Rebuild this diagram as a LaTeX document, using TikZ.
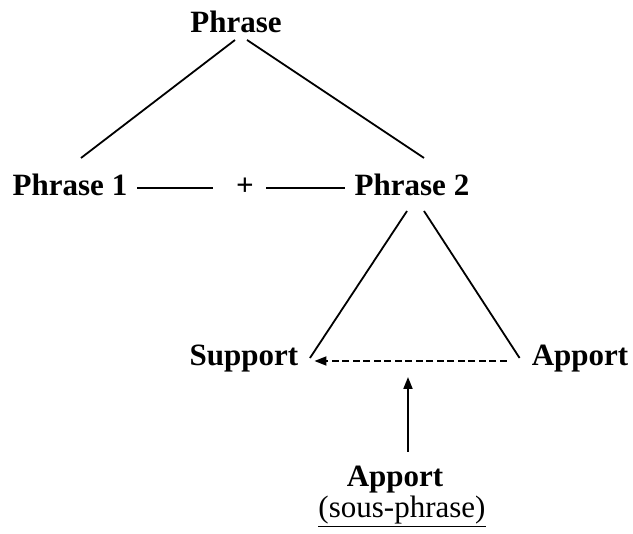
\documentclass[tikz,border=0pt]{standalone}
\usepackage{fontspec}
\setmainfont{Liberation Serif}
\usetikzlibrary{calc,arrows.meta}
\begin{document}
\begin{tikzpicture}[x=1pt,y=-1pt,
  lbl/.style={font=\fontsize{31}{37}\selectfont\bfseries, inner sep=0pt, anchor=base},
  sub/.style={font=\fontsize{31}{37}\selectfont, inner sep=0pt, anchor=base},
  ln/.style={line width=1.8pt},
  tip/.style={-{Triangle[length=12pt,width=9pt]}},
  dsh/.style={dash pattern=on 7pt off 3.5pt}]
\useasboundingbox (0,0) rectangle (633,534);
\node[lbl] (ph) at (236,33) {Phrase};
\node[lbl] (p1) at (70,196) {Phrase 1};
\node[lbl] (plus) at (245,196) {+};
\node[lbl] (p2) at (412,196) {Phrase 2};
\node[lbl] (sup) at (244,366) {Support};
\node[lbl] (app) at (580,366) {Apport};
\node[lbl] (app2) at (395,487) {Apport};
\node[sub] (sous) at (402,518) {\underline{(sous-phrase)}};
% tree lines
\draw[ln] ($(ph.base)+(-1,7)$) -- ($(p1.base)+(11,-38)$);
\draw[ln] ($(ph.base)+(11,7)$) -- ($(p2.base)+(12,-38)$);
\draw[ln] ($(p1.base east)+(10,-8)$) -- ($(plus.base west)+(-23,-8)$);
\draw[ln] ($(plus.base east)+(12,-8)$) -- ($(p2.base west)+(-10,-8)$);
\draw[ln] ($(p2.base)+(-5,15)$) -- ($(sup.base east)+(11.5,-8)$);
\draw[ln] ($(p2.base)+(12,15)$) -- ($(app.base west)+(-12,-8)$);
% arrows
\draw[ln,dsh,tip] ($(app.base west)+(-25,-5)$) -- ($(sup.base east)+(16,-5)$);
\coordinate (target) at ($(app2.base)+(13,-110)$);
\draw[ln,tip] ($(app2.base)+(13,-35)$) -- (target);
\end{tikzpicture}
\end{document}
